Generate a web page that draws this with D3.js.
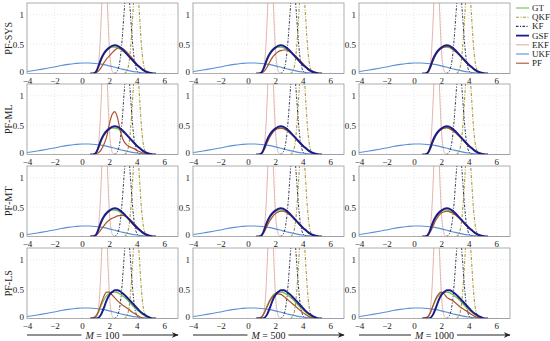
<!DOCTYPE html>
<html><head><meta charset="utf-8">
<script src="https://cdn.jsdelivr.net/npm/d3@7"></script>
<style>body{margin:0;background:#fff}svg{display:block}text{font-family:"Liberation Serif","DejaVu Serif",serif;fill:#222}</style>
</head><body><svg id="c" width="550" height="341"></svg>
<script>
// ---------- data ----------
const rowLabels = ["PF-SYS","PF-ML","PF-MT","PF-LS"];
const colLabels = ["100","500","1000"];
const xTicks = [-4,-2,0,2,4,6];
const yTicks = [0,0.5,1];
const ukfX = [-4,-3.5,-3,-2.5,-2,-1.5,-1,-0.5,0,0.5,1,1.5,2,2.5,3,3.5,4,4.5,5,5.5,6,6.5,7];
const ukfY = [0.035,0.05,0.07,0.09,0.11,0.135,0.155,0.17,0.18,0.178,0.17,0.155,0.13,0.1,0.07,0.045,0.025,0.01,0.002,0,0,0,0];
const ekfX = [0.9,1.0,1.1,1.2,1.3,1.4,1.5,1.6,1.7,1.8,1.9,2.0,2.1,2.2,2.3,2.4];
const ekfY = [0,0.01,0.045,0.16,0.43,0.91,1.5,1.93,1.93,1.5,0.91,0.43,0.16,0.045,0.01,0];
const kfX = [2.35,2.45,2.55,2.65,2.75,2.85,2.95,3.05,3.15,3.25,3.35,3.45,3.55,3.65,3.75,3.85,3.95,4.05,4.15,4.25];
const kfY = [0,0.01,0.031,0.082,0.186,0.369,0.639,0.964,1.27,1.455,1.455,1.27,0.964,0.639,0.369,0.186,0.082,0.031,0.01,0];
const qkfX = [3.1,3.2,3.3,3.4,3.5,3.6,3.7,3.8,3.9,4.0,4.1,4.2,4.3,4.4,4.5,4.6,4.7,4.8];
const qkfY = [0,0.018,0.054,0.142,0.317,0.6,0.97,1.34,1.57,1.57,1.34,0.97,0.6,0.317,0.142,0.054,0.018,0];
const pfX = [0.6,0.8,1.0,1.2,1.4,1.6,1.8,2.0,2.2,2.4,2.6,2.8,3.0,3.2,3.4,3.6,3.8,4.0,4.2,4.4,4.6,4.8,5.0,5.2,5.4];
const gtY = [0,0,0.02,0.1,0.22,0.32,0.39,0.43,0.45,0.45,0.44,0.41,0.38,0.34,0.29,0.24,0.19,0.15,0.11,0.07,0.04,0.02,0.01,0,0];
const gsfY = [0,0,0.02,0.12,0.25,0.34,0.40,0.44,0.47,0.48,0.47,0.44,0.40,0.35,0.30,0.25,0.20,0.15,0.11,0.07,0.04,0.02,0.01,0,0];
const gsfYLS = [0,0,0,0.01,0.07,0.18,0.31,0.40,0.45,0.48,0.48,0.46,0.42,0.38,0.33,0.28,0.23,0.18,0.13,0.09,0.06,0.03,0.01,0,0];
const pfSYS100 = [0,0,0.01,0.04,0.1,0.18,0.25,0.30,0.35,0.40,0.43,0.44,0.42,0.38,0.33,0.28,0.22,0.16,0.11,0.07,0.04,0.02,0.01,0,0];
const pfSYS500 = [0,0,0.01,0.04,0.11,0.2,0.28,0.33,0.37,0.39,0.40,0.40,0.38,0.35,0.31,0.27,0.22,0.17,0.12,0.08,0.05,0.03,0.01,0,0];
const pfSYS1000 = [0,0,0.02,0.1,0.22,0.32,0.39,0.43,0.45,0.46,0.45,0.42,0.38,0.34,0.29,0.24,0.19,0.15,0.11,0.07,0.04,0.02,0.01,0,0];
const pfML100 = [0,0,0.01,0.03,0.08,0.17,0.30,0.52,0.68,0.73,0.62,0.40,0.25,0.18,0.14,0.12,0.10,0.07,0.05,0.03,0.02,0.01,0,0,0];
const pfML500 = [0,0,0.02,0.09,0.2,0.3,0.37,0.42,0.44,0.45,0.44,0.42,0.38,0.34,0.29,0.24,0.19,0.15,0.11,0.07,0.04,0.02,0.01,0,0];
const pfML1000 = [0,0,0.02,0.1,0.22,0.32,0.39,0.43,0.45,0.46,0.44,0.41,0.38,0.33,0.29,0.24,0.19,0.15,0.11,0.07,0.04,0.02,0.01,0,0];
const pfMT100 = [0,0.01,0.02,0.06,0.12,0.18,0.24,0.28,0.31,0.33,0.35,0.36,0.36,0.34,0.31,0.27,0.22,0.17,0.12,0.08,0.05,0.03,0.01,0,0];
const pfMT500 = [0,0,0.02,0.08,0.18,0.27,0.34,0.39,0.42,0.43,0.43,0.41,0.38,0.34,0.29,0.25,0.2,0.15,0.11,0.07,0.04,0.02,0.01,0,0];
const pfMT1000 = [0,0,0.02,0.08,0.18,0.28,0.35,0.40,0.42,0.43,0.42,0.40,0.37,0.33,0.29,0.24,0.19,0.15,0.11,0.07,0.04,0.02,0.01,0,0];
const pfLS100 = [0,0.01,0.04,0.12,0.25,0.38,0.45,0.45,0.40,0.35,0.30,0.26,0.22,0.19,0.16,0.12,0.09,0.06,0.03,0.01,0,0,0,0,0];
const pfLS500 = [0,0.01,0.03,0.10,0.2,0.3,0.37,0.41,0.42,0.41,0.38,0.34,0.30,0.26,0.22,0.18,0.14,0.10,0.07,0.04,0.02,0.01,0,0,0];
const pfLS1000 = [0,0.01,0.03,0.10,0.22,0.34,0.42,0.45,0.42,0.36,0.33,0.31,0.27,0.23,0.19,0.16,0.13,0.1,0.07,0.04,0.02,0.01,0,0,0];
const pfRows = [[pfSYS100,pfSYS500,pfSYS1000],[pfML100,pfML500,pfML1000],[pfMT100,pfMT500,pfMT1000],[pfLS100,pfLS500,pfLS1000]];
const gsfRows = [gsfY,gsfY,gsfY,gsfYLS];
const legendNames = ["GT","QKF","KF","GSF","EKF","UKF","PF"];

// ---------- styles ----------
const sty = {
  GT:{c:"#6cc04a",w:1.2,d:null},
  QKF:{c:"#ab9a3c",w:1.1,d:"3,1.5,1,1.5"},
  KF:{c:"#33334f",w:1,d:"2.5,1.5,1,1.5"},
  GSF:{c:"#1d1d8a",w:2,d:null},
  EKF:{c:"#e0aca2",w:0.9,d:null},
  UKF:{c:"#5a8fd8",w:1.1,d:null},
  PF:{c:"#b0502e",w:1.2,d:null}
};

const svg = d3.select("#c");
const colX = [27,193,359], rowY = [3,84,166,248];
const W = 151, H = 70.5;
const x = d3.scaleLinear().domain([-4,7]).range([0,W]);
const y = d3.scaleLinear().domain([0,1.2]).range([H,0]);
const line = d3.line().x(d=>x(d[0])).y(d=>y(d[1])).curve(d3.curveMonotoneX);
const zip = (xs,ys)=>xs.map((v,i)=>[v,ys[i]]);

svg.append("defs").append("clipPath").attr("id","pc").append("rect").attr("width",W).attr("height",H);

rowY.forEach((ty,r)=>{
  colX.forEach((tx,c)=>{
    const g = svg.append("g").attr("transform",`translate(${tx},${ty})`);
    // grid
    g.selectAll(".gx").data(xTicks).join("line").attr("x1",d=>x(d)).attr("x2",d=>x(d)).attr("y1",0).attr("y2",H)
      .attr("stroke","#d8d8d8").attr("stroke-width",0.6).attr("stroke-dasharray","1,2");
    g.selectAll(".gy").data(yTicks.slice(1)).join("line").attr("y1",d=>y(d)).attr("y2",d=>y(d)).attr("x1",0).attr("x2",W)
      .attr("stroke","#d8d8d8").attr("stroke-width",0.6).attr("stroke-dasharray","1,2");
    const pg = g.append("g").attr("clip-path","url(#pc)");
    const draw = (pts,s)=>pg.append("path").attr("d",line(pts)).attr("fill","none").attr("stroke",s.c)
      .attr("stroke-width",s.w).attr("stroke-dasharray",s.d);
    draw(zip(ekfX,ekfY),sty.EKF);
    draw(zip(ukfX,ukfY),sty.UKF);
    draw(zip(qkfX,qkfY),sty.QKF);
    draw(zip(kfX,kfY),sty.KF);
    draw(zip(pfX,gtY),sty.GT);
    draw(zip(pfX,pfRows[r][c]),sty.PF);
    draw(zip(pfX,gsfRows[r]),sty.GSF);
    // frame
    g.append("rect").attr("width",W).attr("height",H).attr("fill","none").attr("stroke","#9a9a9a").attr("stroke-width",0.8);
    // axes
    const ax = g.append("g").attr("transform",`translate(0,${H})`).call(d3.axisBottom(x).tickValues(xTicks).tickSize(0).tickPadding(4));
    ax.select(".domain").remove();
    ax.selectAll("text").attr("font-size",9).attr("font-family","Liberation Serif").attr("fill","#222");
    const ay = g.append("g").call(d3.axisLeft(y).tickValues(yTicks).tickSize(0).tickPadding(3).tickFormat(d3.format("")));
    ay.select(".domain").remove();
    ay.selectAll("text").attr("font-size",9).attr("font-family","Liberation Serif").attr("fill","#222")
      .attr("dy",d=>d===0?"0.1em":"0.32em");
  });
  svg.append("text").attr("transform",`translate(12,${ty+H/2}) rotate(-90)`).attr("text-anchor","middle")
    .attr("font-size",10).text(rowLabels[r]);
});

// bottom arrows
svg.append("defs").append("marker").attr("id","ah").attr("viewBox","0 0 10 10").attr("refX",9).attr("refY",5)
  .attr("markerWidth",7).attr("markerHeight",7).attr("orient","auto")
  .append("path").attr("d","M0,1 L10,5 L0,9 L3,5 Z").attr("fill","#222");
colX.forEach((tx,c)=>{
  const yy = 335, cx = tx + W/2;
  const t = svg.append("text").attr("x",cx).attr("y",yy+3.5).attr("text-anchor","middle").attr("font-size",10);
  t.append("tspan").attr("font-style","italic").text("M");
  t.append("tspan").text(" = " + colLabels[c]);
  const bb = t.node().getBBox();
  svg.append("line").attr("x1",tx).attr("x2",bb.x-3).attr("y1",yy).attr("y2",yy).attr("stroke","#222").attr("stroke-width",1);
  svg.append("line").attr("x1",bb.x+bb.width+3).attr("x2",tx+W).attr("y1",yy).attr("y2",yy).attr("stroke","#222").attr("stroke-width",1)
    .attr("marker-end","url(#ah)");
});

// legend
const lg = svg.append("g").attr("transform","translate(516,8)");
legendNames.forEach((n,i)=>{
  const s = sty[n], yy = i*9.2;
  lg.append("line").attr("x1",0).attr("x2",13).attr("y1",yy).attr("y2",yy).attr("stroke",s.c)
    .attr("stroke-width",n==="GSF"?1.8:1.1).attr("stroke-dasharray",s.d);
  lg.append("text").attr("x",16).attr("y",yy+3).attr("font-size",9).text(n);
});
</script></body></html>
